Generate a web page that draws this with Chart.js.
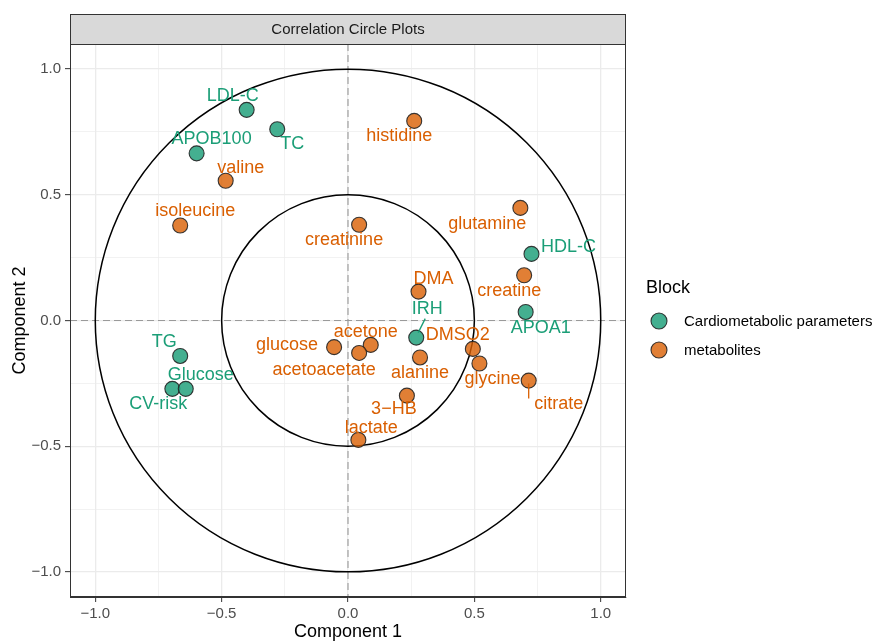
<!DOCTYPE html>
<html>
<head>
<meta charset="utf-8">
<script src="https://cdn.jsdelivr.net/npm/chart.js@4.4.1/dist/chart.umd.min.js"></script>
<style>
  html, body { margin: 0; padding: 0; background: #ffffff; }
  canvas { display: block; }
</style>
</head>
<body>
<canvas id="chart" width="877" height="641"></canvas>
<script>
// ---- data: loadings on the first two components ----
const cardioNames = ['LDL-C', 'TC', 'APOB100', 'HDL-C', 'APOA1', 'IRH', 'TG', 'CV-risk', 'Glucose'];
const cardioX = [-0.401, -0.280, -0.599, 0.726, 0.703, 0.270, -0.664, -0.695, -0.642];
const cardioY = [0.838, 0.761, 0.665, 0.265, 0.034, -0.068, -0.141, -0.272, -0.272];

const metaboliteNames = ['histidine', 'valine', 'isoleucine', 'creatinine', 'glutamine', 'creatine', 'DMA',
  'glucose', 'acetone', 'acetoacetate', 'DMSO2', 'alanine', 'glycine', 'citrate', '3\u2212HB', 'lactate'];
const metaboliteX = [0.262, -0.484, -0.664, 0.044, 0.682, 0.697, 0.279,
  -0.055, 0.090, 0.044, 0.494, 0.285, 0.520, 0.715, 0.233, 0.041];
const metaboliteY = [0.794, 0.556, 0.378, 0.381, 0.448, 0.180, 0.115,
  -0.106, -0.097, -0.129, -0.113, -0.147, -0.171, -0.239, -0.299, -0.475];

const seriesNames = ['Cardiometabolic parameters', 'metabolites'];
const tickValues = [-1, -0.75, -0.5, -0.25, 0, 0.25, 0.5, 0.75, 1];
const circleRadii = [1, 0.5];
const panelTitle = 'Correlation Circle Plots';
const legendTitle = 'Block';
const xTitle = 'Component 1';
const yTitle = 'Component 2';

// ---- label placement: pixel offsets of each text centre from its point ----
const cardioLabelShift = [[-14, -14], [15, 15], [15, -14], [37, -7], [15, 16], [11, -29], [-16, -14], [-14, 15], [15, -14]];
const metaboliteLabelShift = [[-15, 15], [15, -13], [15, -14], [-15, 15], [-33, 16], [-15, 16], [15, -13],
  [-47, -2], [-5, -13], [-35, 17], [-15, -14], [0, 16], [13, 16], [30, 23], [-13, 13], [13, -12]];
// leader segments [fromDx, fromDy, toDx, toDy] relative to the point
const cardioLeaders = { 'IRH': [9, -19, 2, -5] };
const metaboliteLeaders = { 'citrate': [0, 18, 0, 3] };

const FONT = '"Liberation Sans", Arial, Helvetica, sans-serif';
const GREEN = '#1B9E77';
const ORANGE = '#D95F02';
const GREEN_FILL = 'rgba(27,158,119,0.82)';
const ORANGE_FILL = 'rgba(217,95,2,0.80)';
const POINT_EDGE = 'rgba(35,35,35,0.9)';

const toPoints = (xs, ys) => xs.map((x, i) => ({ x: x, y: ys[i] }));
const isMajor = v => Math.abs(v * 2 - Math.round(v * 2)) < 1e-9;
const fmtTick = v => (v < 0 ? '\u2212' : '') + Math.abs(v).toFixed(1);

// white page
const background = {
  id: 'background',
  beforeDraw(chart) {
    const ctx = chart.ctx;
    ctx.save();
    ctx.fillStyle = '#ffffff';
    ctx.fillRect(0, 0, chart.width, chart.height);
    ctx.restore();
  }
};

// dashed zero lines and the correlation circles
const circleLayer = {
  id: 'circleLayer',
  beforeDatasetsDraw(chart) {
    const { ctx, chartArea: a, scales: { x, y } } = chart;
    const cx = x.getPixelForValue(0);
    const cy = y.getPixelForValue(0);
    ctx.save();
    ctx.beginPath();
    ctx.rect(a.left, a.top, a.right - a.left, a.bottom - a.top);
    ctx.clip();
    ctx.strokeStyle = '#9a9a9a';
    ctx.lineWidth = 1.1;
    ctx.setLineDash([7, 4]);
    ctx.beginPath();
    ctx.moveTo(a.left, cy); ctx.lineTo(a.right, cy);
    ctx.moveTo(cx, a.top); ctx.lineTo(cx, a.bottom);
    ctx.stroke();
    ctx.setLineDash([]);
    ctx.strokeStyle = '#000000';
    ctx.lineWidth = 1.5;
    circleRadii.forEach(r => {
      const rx = x.getPixelForValue(r) - cx;
      const ry = cy - y.getPixelForValue(r);
      ctx.beginPath();
      ctx.ellipse(cx, cy, rx, ry, 0, 0, Math.PI * 2);
      ctx.stroke();
    });
    ctx.restore();
  }
};

// variable names next to each point
const labelLayer = {
  id: 'labelLayer',
  afterDatasetsDraw(chart) {
    const ctx = chart.ctx;
    ctx.save();
    ctx.font = '18px ' + FONT;
    ctx.textAlign = 'center';
    ctx.textBaseline = 'middle';
    chart.data.datasets.forEach((ds, i) => {
      const meta = chart.getDatasetMeta(i);
      meta.data.forEach((pt, j) => {
        const name = ds.names[j];
        const [dx, dy] = ds.labelShift[j];
        const seg = ds.leaders[name];
        ctx.fillStyle = ds.textColor;
        ctx.strokeStyle = ds.textColor;
        if (seg) {
          ctx.lineWidth = 1.3;
          ctx.beginPath();
          ctx.moveTo(pt.x + seg[0], pt.y + seg[1]);
          ctx.lineTo(pt.x + seg[2], pt.y + seg[3]);
          ctx.stroke();
        }
        ctx.fillText(name, pt.x + dx, pt.y + dy);
      });
    });
    ctx.restore();
  }
};

// panel border, facet strip and legend
const frameLayer = {
  id: 'frameLayer',
  afterDraw(chart) {
    const { ctx, chartArea: a } = chart;
    ctx.save();
    ctx.strokeStyle = '#333333';
    ctx.lineWidth = 1;
    ctx.strokeRect(a.left + 0.5, a.top + 0.5, a.right - a.left - 1, a.bottom - a.top - 1);

    // strip
    const stripTop = 14.5;
    ctx.fillStyle = '#D9D9D9';
    ctx.fillRect(a.left, stripTop, a.right - a.left, a.top - stripTop);
    ctx.strokeRect(a.left + 0.5, stripTop, a.right - a.left - 1, a.top - stripTop + 0.5);
    ctx.fillStyle = '#1A1A1A';
    ctx.font = '15px ' + FONT;
    ctx.textAlign = 'center';
    ctx.textBaseline = 'middle';
    ctx.fillText(panelTitle, (a.left + a.right) / 2, (stripTop + a.top) / 2 + 1);

    // legend
    const lx = 646;
    ctx.textAlign = 'left';
    ctx.fillStyle = '#000000';
    ctx.font = '18px ' + FONT;
    ctx.fillText(legendTitle, lx, 288);
    ctx.font = '15px ' + FONT;
    chart.data.datasets.forEach((ds, i) => {
      const ky = 321 + i * 29;
      ctx.beginPath();
      ctx.arc(659, ky, 8, 0, Math.PI * 2);
      ctx.fillStyle = ds.backgroundColor;
      ctx.fill();
      ctx.strokeStyle = POINT_EDGE;
      ctx.lineWidth = 1.1;
      ctx.stroke();
      ctx.fillStyle = '#000000';
      ctx.fillText(ds.label, 684, ky + 1);
    });
    ctx.restore();
  }
};

const gridWidth = c => (c.tick && isMajor(c.tick.value) ? 1.3 : 0.65);
const tickColor = c => (c.tick && isMajor(c.tick.value) ? '#333333' : 'rgba(0,0,0,0)');

const axis = (title, isX) => ({
  type: 'linear',
  min: -1.1,
  max: 1.1,
  afterBuildTicks: s => { s.ticks = tickValues.map(v => ({ value: v })); },
  afterFit: s => { if (isX) { s.height = 44; } else { s.width = 70; } },
  grid: {
    color: '#EBEBEB',
    lineWidth: gridWidth,
    tickColor: tickColor,
    tickLength: 5,
    tickWidth: 1
  },
  border: { display: true, color: '#333333', width: 1 },
  ticks: {
    autoSkip: false,
    maxRotation: 0,
    padding: isX ? 3 : 4,
    color: '#4D4D4D',
    font: { family: FONT, size: 15 },
    callback: v => (isMajor(v) ? fmtTick(v) : '')
  },
  title: {
    display: true,
    text: title,
    color: '#000000',
    font: { family: FONT, size: 18, lineHeight: 1 },
    padding: isX ? { top: 0, bottom: 0 } : { top: 11, bottom: 0 }
  }
});

new Chart(document.getElementById('chart'), {
  type: 'scatter',
  data: {
    datasets: [
      {
        label: seriesNames[0],
        data: toPoints(cardioX, cardioY),
        names: cardioNames,
        labelShift: cardioLabelShift,
        leaders: cardioLeaders,
        textColor: GREEN,
        backgroundColor: GREEN_FILL,
        borderColor: POINT_EDGE,
        borderWidth: 1.1,
        pointRadius: 7.5
      },
      {
        label: seriesNames[1],
        data: toPoints(metaboliteX, metaboliteY),
        names: metaboliteNames,
        labelShift: metaboliteLabelShift,
        leaders: metaboliteLeaders,
        textColor: ORANGE,
        backgroundColor: ORANGE_FILL,
        borderColor: POINT_EDGE,
        borderWidth: 1.1,
        pointRadius: 7.5
      }
    ]
  },
  options: {
    responsive: false,
    animation: false,
    events: [],
    devicePixelRatio: 1,
    layout: { padding: { top: 44, right: 251, bottom: 0, left: 0 } },
    plugins: {
      legend: { display: false },
      tooltip: { enabled: false }
    },
    scales: {
      x: axis(xTitle, true),
      y: axis(yTitle, false)
    }
  },
  plugins: [background, circleLayer, labelLayer, frameLayer]
});
</script>
</body>
</html>
